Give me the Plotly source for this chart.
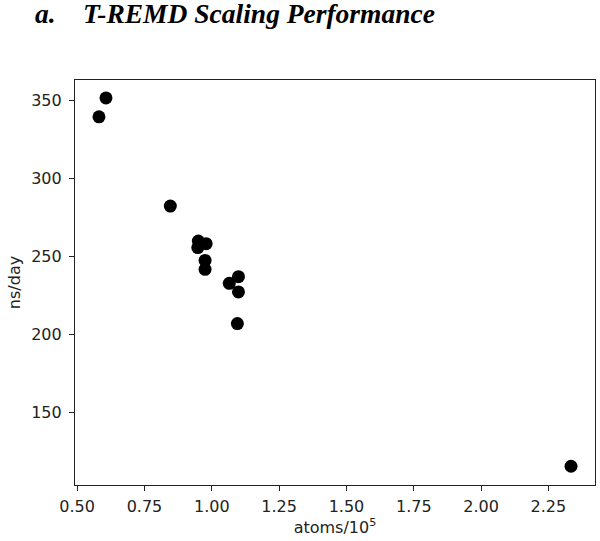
import plotly.graph_objects as go

atoms_1e5 = [0.581, 0.607, 0.846, 0.950, 0.948, 0.979, 0.975, 0.975, 1.065, 1.099, 1.099, 1.095, 2.334]
ns_per_day = [339.4, 351.5, 282.2, 259.8, 255.6, 258.1, 247.4, 241.7, 232.7, 237.0, 227.2, 206.9, 115.5]

x_ticks = [0.50, 0.75, 1.00, 1.25, 1.50, 1.75, 2.00, 2.25]
y_ticks = [150, 200, 250, 300, 350]

fig = go.Figure(go.Scatter(
    x=atoms_1e5, y=ns_per_day, mode="markers",
    marker=dict(color="black", size=13, line=dict(width=0)),
))

axis_common = dict(
    showline=True, linecolor="#222", linewidth=1.2, mirror=True,
    ticks="outside", ticklen=5, tickwidth=1.2, tickcolor="#222",
    showgrid=False, zeroline=False, automargin=False,
    tickfont=dict(family="DejaVu Sans", size=16, color="#222"),
)

W, H = 600, 541
L, R, T, B = 75, 5, 80, 56
PW, PH = W - L - R, H - T - B

fig.update_layout(
    width=W, height=H,
    margin=dict(l=L, r=R, t=T, b=B),
    paper_bgcolor="white", plot_bgcolor="white",
    showlegend=False,
    xaxis=dict(range=[0.492, 2.423], tickvals=x_ticks, tickformat=".2f",
               ticklabelstandoff=2,
               title=dict(text="atoms/10<sup>5</sup>", standoff=2,
                          font=dict(family="DejaVu Sans", size=16, color="#222")),
               **axis_common),
    yaxis=dict(range=[103.5, 363.0], tickvals=y_ticks,
               ticklabelstandoff=4,
               title=dict(text="ns/day", standoff=6,
                          font=dict(family="DejaVu Sans", size=16, color="#222")),
               **axis_common),
    annotations=[
        dict(text="<b><i>a.</i></b>", xref="paper", yref="paper",
             x=(33 - L) / PW, y=1 + (T - 13) / PH, xanchor="left", yanchor="middle",
             showarrow=False, font=dict(family="Liberation Serif", size=27.5, color="black")),
        dict(text="<b><i>T-REMD Scaling Performance</i></b>", xref="paper", yref="paper",
             x=(81 - L) / PW, y=1 + (T - 13) / PH, xanchor="left", yanchor="middle",
             showarrow=False, font=dict(family="Liberation Serif", size=27.5, color="black")),
    ],
)

fig.write_html("out.html", config={"displayModeBar": False},
               post_script="document.body.style.margin='0';document.body.style.overflow='hidden';")
